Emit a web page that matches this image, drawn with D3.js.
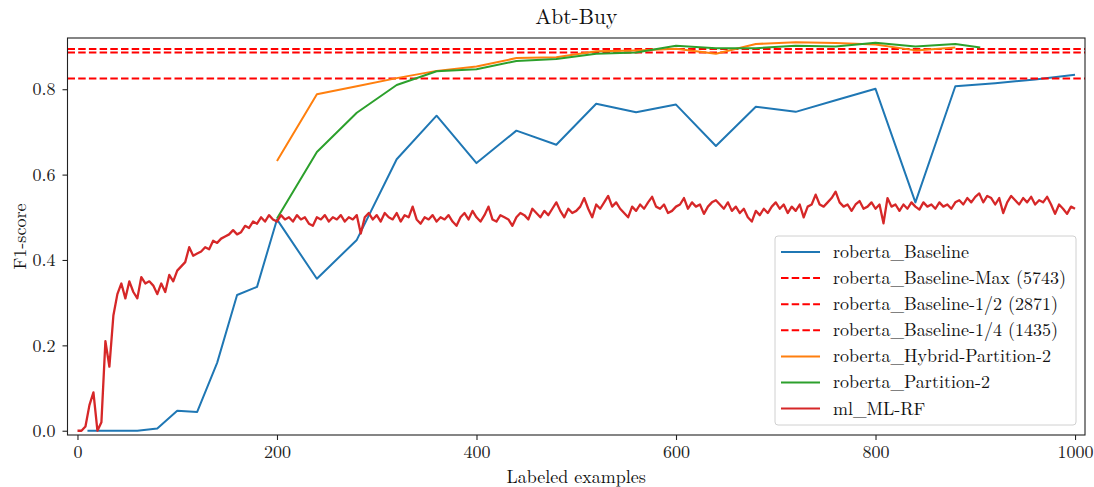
<!DOCTYPE html>
<html>
<head>
<meta charset="utf-8">
<script src="https://cdn.jsdelivr.net/npm/d3@7"></script>
<style>
    body { margin: 0; background: #fff; }
</style>
</head>
<body>
<div id="chart"></div>
<script>
// labeled examples for the roberta runs
var baselineX = [10, 20, 40, 60, 80, 100, 120, 140, 160, 180, 200, 240, 280, 320, 360, 400, 440, 480, 520, 560, 600, 640, 680, 720, 760, 800, 840, 880, 920, 960, 1000];
var baselineF1 = [0, 0, 0, 0, 0.005, 0.047, 0.044, 0.159, 0.318, 0.337, 0.495, 0.356, 0.447, 0.636, 0.738, 0.627, 0.703, 0.670, 0.766, 0.746, 0.764, 0.667, 0.759, 0.747, 0.774, 0.801, 0.535, 0.807, 0.814, 0.823, 0.834];

var hybridX = [200, 240, 280, 320, 360, 400, 440, 480, 520, 560, 600, 640, 680, 720, 760, 800, 840, 880];
var hybridF1 = [0.632, 0.788, 0.807, 0.826, 0.843, 0.853, 0.873, 0.875, 0.889, 0.891, 0.895, 0.883, 0.906, 0.910, 0.908, 0.905, 0.891, 0.898];

var partitionX = [200, 240, 280, 320, 360, 400, 440, 480, 520, 560, 600, 640, 680, 720, 760, 800, 840, 880, 905];
var partitionF1 = [0.497, 0.653, 0.745, 0.810, 0.842, 0.847, 0.866, 0.871, 0.883, 0.886, 0.902, 0.896, 0.896, 0.902, 0.900, 0.909, 0.900, 0.906, 0.898];

// reference lines (full / half / quarter training set)
var refNames = ['roberta_Baseline-Max (5743)', 'roberta_Baseline-1/2 (2871)', 'roberta_Baseline-1/4 (1435)'];
var refF1 = [0.894, 0.886, 0.825];

// ml_ML-RF, one value every 4 labeled examples from 0 to 1000
var rfStep = 4;
var rfF1 = [
    0, 0, 0.01, 0.06, 0.09, 0.0, 0.02, 0.21, 0.15, 0.27, 0.32, 0.345, 0.31, 0.35, 0.325, 0.31, 0.36, 0.345, 0.35, 0.34, 0.32, 0.345, 0.325, 0.365, 0.35,
    0.375, 0.385, 0.395, 0.43, 0.41, 0.415, 0.42, 0.43, 0.425, 0.445, 0.44, 0.45, 0.455, 0.46, 0.47, 0.46, 0.465, 0.48, 0.475, 0.49, 0.485, 0.5, 0.49, 0.505, 0.495,
    0.49, 0.505, 0.495, 0.5, 0.49, 0.505, 0.495, 0.5, 0.485, 0.48, 0.5, 0.495, 0.505, 0.49, 0.5, 0.495, 0.505, 0.49, 0.5, 0.495, 0.505, 0.462, 0.5, 0.51, 0.495,
    0.505, 0.49, 0.51, 0.5, 0.495, 0.51, 0.49, 0.505, 0.5, 0.525, 0.495, 0.485, 0.5, 0.495, 0.505, 0.49, 0.5, 0.495, 0.505, 0.49, 0.48, 0.5, 0.51, 0.495, 0.515,
    0.5, 0.49, 0.505, 0.525, 0.495, 0.49, 0.505, 0.5, 0.495, 0.48, 0.5, 0.51, 0.505, 0.495, 0.52, 0.51, 0.5, 0.515, 0.505, 0.52, 0.535, 0.515, 0.5, 0.52, 0.51,
    0.515, 0.525, 0.545, 0.52, 0.5, 0.53, 0.52, 0.535, 0.55, 0.525, 0.535, 0.52, 0.51, 0.5, 0.525, 0.515, 0.53, 0.52, 0.535, 0.548, 0.525, 0.52, 0.53, 0.51, 0.515,
    0.525, 0.53, 0.545, 0.52, 0.535, 0.525, 0.53, 0.508, 0.525, 0.535, 0.54, 0.53, 0.52, 0.535, 0.515, 0.525, 0.51, 0.52, 0.5, 0.49, 0.515, 0.505, 0.52, 0.51, 0.525,
    0.535, 0.52, 0.53, 0.51, 0.525, 0.515, 0.53, 0.5, 0.525, 0.53, 0.553, 0.53, 0.525, 0.535, 0.545, 0.56, 0.535, 0.525, 0.53, 0.515, 0.53, 0.538, 0.52, 0.525, 0.535,
    0.52, 0.53, 0.486, 0.545, 0.525, 0.53, 0.515, 0.53, 0.52, 0.535, 0.525, 0.518, 0.535, 0.525, 0.53, 0.52, 0.535, 0.525, 0.53, 0.52, 0.535, 0.54, 0.53, 0.545, 0.535,
    0.548, 0.556, 0.535, 0.55, 0.545, 0.53, 0.545, 0.51, 0.535, 0.55, 0.54, 0.53, 0.545, 0.535, 0.548, 0.53, 0.54, 0.535, 0.548, 0.53, 0.508, 0.53, 0.52, 0.508, 0.525,
    0.52
];

var xTicks = [0, 200, 400, 600, 800, 1000];
var yTicks = [0.0, 0.2, 0.4, 0.6, 0.8];

var width = 1094;
var height = 487;
var margin = { top: 38, right: 9, bottom: 52, left: 67.5 };
var font = '"Latin Modern Roman", "Liberation Serif", serif';

var svg = d3.select('#chart').append('svg').attr('width', width).attr('height', height);

var x = d3.scaleLinear().domain([-10, 1010]).range([margin.left, width - margin.right]);
var y = d3.scaleLinear().domain([-0.01, 0.92]).range([height - margin.bottom, margin.top]);

svg.append('clipPath').attr('id', 'plot-clip')
   .append('rect')
   .attr('x', margin.left).attr('y', margin.top)
   .attr('width', width - margin.left - margin.right)
   .attr('height', height - margin.top - margin.bottom);

var plot = svg.append('g').attr('clip-path', 'url(#plot-clip)');

function zip(xs, ys) {
    return xs.map(function (d, i) { return [d, ys[i]]; });
}

var line = d3.line()
    .x(function (d) { return x(d[0]); })
    .y(function (d) { return y(d[1]); });

function drawLine(data, color, w) {
    plot.append('path')
        .datum(data)
        .attr('d', line)
        .attr('fill', 'none')
        .attr('stroke', color)
        .attr('stroke-width', w || 2)
        .attr('stroke-linejoin', 'round');
}

var rfData = rfF1.map(function (d, i) { return [i * rfStep, d]; });

// same order as the legend
drawLine(zip(baselineX, baselineF1), '#1f77b4');

plot.selectAll('line.ref')
    .data(refF1)
    .enter()
    .append('line')
    .attr('class', 'ref')
    .attr('x1', margin.left)
    .attr('x2', width - margin.right)
    .attr('y1', function (d) { return y(d); })
    .attr('y2', function (d) { return y(d); })
    .attr('stroke', '#ff0000')
    .attr('stroke-width', 2)
    .attr('stroke-dasharray', '7.5,3.2');

drawLine(zip(hybridX, hybridF1), '#ff7f0e');
drawLine(zip(partitionX, partitionF1), '#2ca02c');
drawLine(rfData, '#d62728', 2.3);

// axes
var xAxis = svg.append('g')
    .attr('transform', 'translate(0,' + (height - margin.bottom) + ')')
    .call(d3.axisBottom(x).tickValues(xTicks).tickSize(5).tickPadding(5).tickFormat(d3.format('d')));

var yAxis = svg.append('g')
    .attr('transform', 'translate(' + margin.left + ',0)')
    .call(d3.axisLeft(y).tickValues(yTicks).tickSize(5).tickPadding(7).tickFormat(d3.format('.1f')));

[xAxis, yAxis].forEach(function (a) {
    a.select('.domain').remove();
    a.selectAll('.tick line').attr('stroke', '#222').attr('stroke-width', 1.1);
    a.selectAll('.tick text').attr('font-size', 18).attr('fill', '#222')
        .style('font-family', font);
});

// frame
svg.append('rect')
    .attr('x', margin.left).attr('y', margin.top)
    .attr('width', width - margin.left - margin.right)
    .attr('height', height - margin.top - margin.bottom)
    .attr('fill', 'none')
    .attr('stroke', '#222')
    .attr('stroke-width', 1.1);

function label(txt, size) {
    return svg.append('text')
        .attr('text-anchor', 'middle')
        .attr('font-size', size)
        .attr('fill', '#111')
        .style('font-family', font)
        .text(txt);
}

label('Abt-Buy', 21.5)
    .attr('x', (margin.left + width - margin.right) / 2)
    .attr('y', 24);

label('Labeled examples', 18)
    .attr('x', (margin.left + width - margin.right) / 2)
    .attr('y', 483);

label('F1-score', 18)
    .attr('transform', 'translate(26,' + ((margin.top + height - margin.bottom) / 2) + ') rotate(-90)');

// legend
var legendItems = [
    { name: 'roberta_Baseline', color: '#1f77b4', dash: null },
    { name: refNames[0], color: '#ff0000', dash: '7.5,3.2' },
    { name: refNames[1], color: '#ff0000', dash: '7.5,3.2' },
    { name: refNames[2], color: '#ff0000', dash: '7.5,3.2' },
    { name: 'roberta_Hybrid-Partition-2', color: '#ff7f0e', dash: null },
    { name: 'roberta_Partition-2', color: '#2ca02c', dash: null },
    { name: 'ml_ML-RF', color: '#d62728', dash: null }
];

var legend = svg.append('g').attr('transform', 'translate(775,236)');

legend.append('rect')
    .attr('width', 301).attr('height', 189)
    .attr('rx', 3)
    .attr('fill', 'rgba(255,255,255,0.85)')
    .attr('stroke', '#d0d0d0')
    .attr('stroke-width', 1);

var rows = legend.selectAll('g.row')
    .data(legendItems)
    .enter()
    .append('g')
    .attr('class', 'row')
    .attr('transform', function (d, i) { return 'translate(0,' + (16 + i * 26.1) + ')'; });

rows.append('line')
    .attr('x1', 6).attr('x2', 45)
    .attr('stroke', function (d) { return d.color; })
    .attr('stroke-width', 2)
    .attr('stroke-dasharray', function (d) { return d.dash; });

rows.append('text')
    .attr('x', 58)
    .attr('dy', '0.33em')
    .attr('font-size', 18)
    .attr('fill', '#111')
    .style('font-family', font)
    .text(function (d) { return d.name; });
</script>
</body>
</html>
